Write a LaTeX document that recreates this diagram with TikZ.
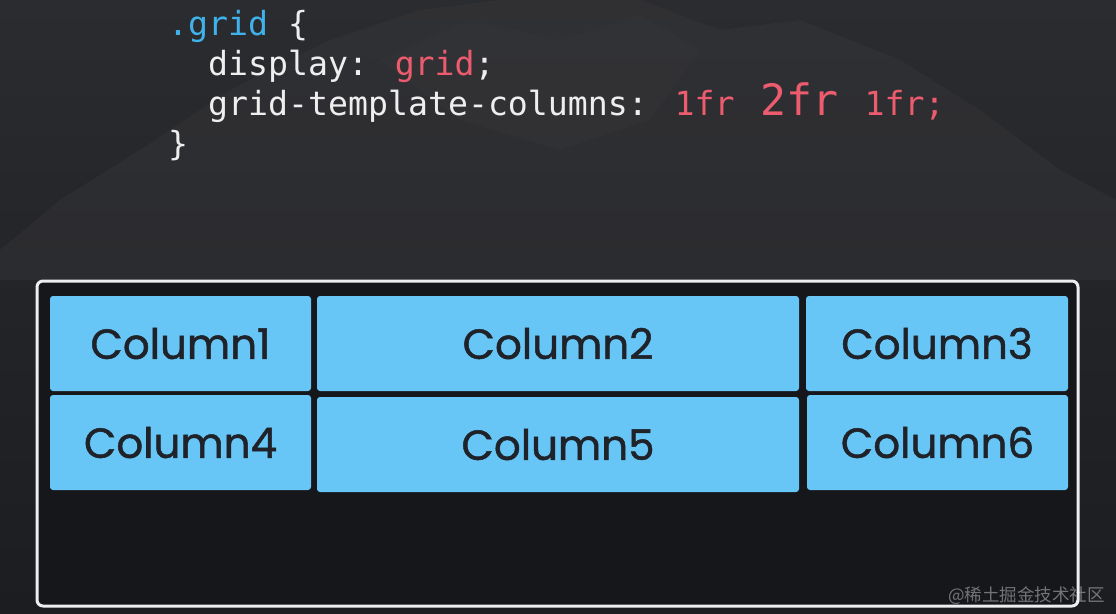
\documentclass[tikz,border=0pt]{standalone}
\usepackage{fontspec}
\newfontfamily\codefont{DejaVu Sans Mono}
\newfontfamily\labelfont[FakeBold=1.2]{Poppins}
\newfontfamily\cjkfont{Noto Sans CJK SC}
\definecolor{bgtop}{HTML}{2B2C2F}
\definecolor{bgmid}{HTML}{232428}
\definecolor{bgbot}{HTML}{1B1D21}
\definecolor{mount}{HTML}{3A3A3D}
\definecolor{boxin}{HTML}{15171B}
\definecolor{cellblue}{HTML}{68C6F6}
\definecolor{celltext}{HTML}{1F2329}
\definecolor{codewhite}{HTML}{EEEEEE}
\definecolor{codeblue}{HTML}{3FB2EA}
\definecolor{codered}{HTML}{EC5C6E}
\tikzset{
  cell/.style={draw=none, fill=cellblue, rounded corners=3pt},
  celllabel/.style={font=\labelfont\fontsize{42}{50}\selectfont, text=celltext, inner sep=0pt},
  code/.style={font=\codefont\fontsize{33.2}{40}\selectfont, text=codewhite, inner sep=0pt, anchor=base west},
}
\begin{document}
\begin{tikzpicture}[x=1pt,y=-1pt]
\useasboundingbox (0,0) rectangle (1116,613);
% background
\shade[top color=bgtop, bottom color=bgbot, middle color=bgmid] (0,0) rectangle (1116,613);
\fill[mount, opacity=0.35] (0,250) -- (60,200) -- (140,150) -- (230,90) -- (330,40) -- (420,10) -- (500,0) -- (640,0) -- (720,30) -- (800,20) -- (900,60) -- (980,110) -- (1060,170) -- (1116,200) -- (1116,280) -- (0,280) -- cycle;
\fill[mount, opacity=0.25] (380,60) -- (470,20) -- (560,40) -- (640,15) -- (700,50) -- (650,120) -- (560,150) -- (460,120) -- cycle;
% code
\node[code] (l1) at (168,35) {\textcolor{codeblue}{.grid} \{};
\node[code] (l2) at (208,75) {display: \textcolor{codered}{grid};};
\node[code] (l3) at (208,115) {grid-template-columns: \textcolor{codered}{1fr{\fontsize{43.2}{50}\selectfont{} 2fr }1fr;}};
\node[code] (l4) at (168,155) {\}};
% container
\draw[codewhite, line width=3pt, rounded corners=6pt, fill=boxin] (37,281) rectangle (1078,606);
% cells
\path[cell] (50,296) rectangle (311,391);
\node[celllabel] (c1) at (180.5,343.5) {Column1};
\path[cell] (317,296) rectangle (799,391);
\node[celllabel] (c2) at (558,343.5) {Column2};
\path[cell] (806,296) rectangle (1068,391);
\node[celllabel] (c3) at (937,343.5) {Column3};
\path[cell] (50,395) rectangle (311,490);
\node[celllabel] (c4) at (180.5,442.5) {Column4};
\path[cell] (317,397) rectangle (799,492);
\node[celllabel] (c5) at (558,444.5) {Column5};
\path[cell] (807,395) rectangle (1068,490);
\node[celllabel] (c6) at (937.5,442.5) {Column6};
% watermark
\node[font=\cjkfont\fontsize{17.5}{21}\selectfont, text=white, opacity=0.4, inner sep=0pt, anchor=east] (wm) at (1105,596) {@稀土掘金技术社区};
\end{tikzpicture}
\end{document}
